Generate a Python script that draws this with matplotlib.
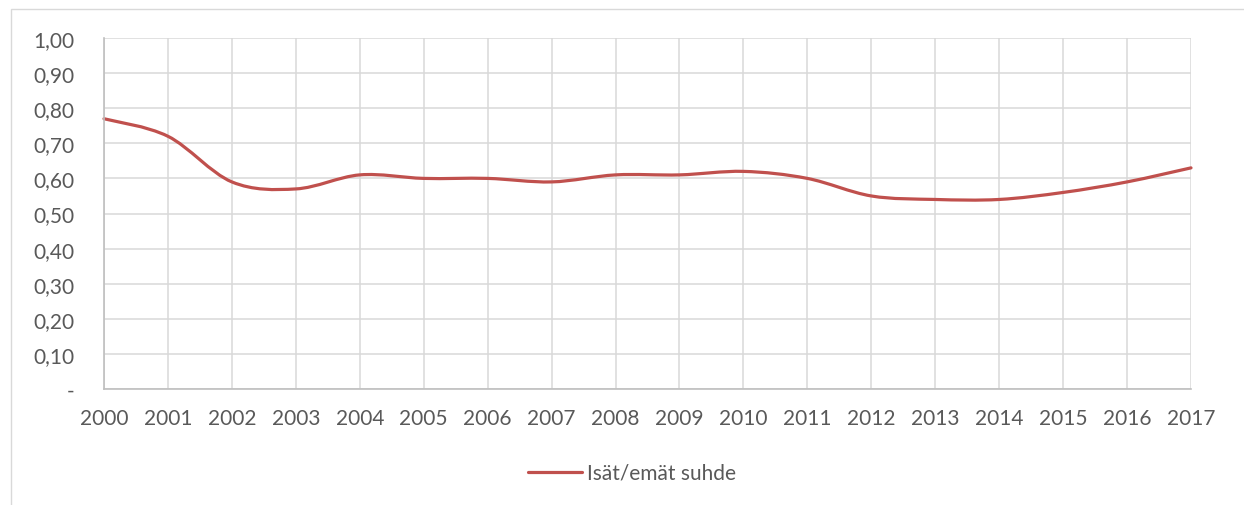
import numpy as np
import matplotlib
matplotlib.use('Agg')
import matplotlib.pyplot as plt
from matplotlib.path import Path
from matplotlib.patches import PathPatch, Rectangle
from matplotlib.lines import Line2D
from matplotlib.ticker import FuncFormatter

plt.rcParams['font.family'] = ['Lato', 'DejaVu Sans']

# data
years = [2000, 2001, 2002, 2003, 2004, 2005, 2006, 2007, 2008,
         2009, 2010, 2011, 2012, 2013, 2014, 2015, 2016, 2017]
ratio = [0.77, 0.72, 0.59, 0.57, 0.61, 0.60, 0.60, 0.59, 0.61,
         0.61, 0.62, 0.60, 0.55, 0.54, 0.54, 0.56, 0.59, 0.63]
series_label = 'Isät/emät suhde'

LINE_COLOR = '#c0504d'
GRID_COLOR = '#d9d9d9'
TEXT_COLOR = '#595959'
FS = 15


def smooth_path(xs, ys):
    # excel-tyylinen pehmennys: bezier-käyrät pisteiden läpi
    pts = np.column_stack([xs, ys]).astype(float)
    n = len(pts)
    verts = [pts[0]]
    codes = [Path.MOVETO]
    for i in range(n - 1):
        p0 = pts[i - 1] if i > 0 else pts[i]
        p1 = pts[i]
        p2 = pts[i + 1]
        p3 = pts[i + 2] if i + 2 < n else pts[i + 1]
        c1 = p1 + (p2 - p0) / 6.0
        c2 = p2 - (p3 - p1) / 6.0
        verts += [c1, c2, p2]
        codes += [Path.CURVE4] * 3
    return Path(verts, codes)


W, H = 1244, 506
fig = plt.figure(figsize=(W / 100, H / 100), dpi=100)

# chart border (only top/left visible in the original)
fig.patches.append(Rectangle((11 / W, -0.1), 1.2, 1 - 10 / H + 0.1,
                             transform=fig.transFigure, fill=False,
                             edgecolor=GRID_COLOR, linewidth=1.0))

left, right, top, bottom = 104, 1191, 39, 390
ax = fig.add_axes([left / W, 1 - bottom / H, (right - left) / W, (bottom - top) / H])

ax.set_xlim(years[0], years[-1])
ax.set_ylim(0, 1.0)
ax.set_xticks(years)
ax.set_yticks(np.arange(0, 1.01, 0.1))
ax.yaxis.set_major_formatter(FuncFormatter(
    lambda v, _: '-' if abs(v) < 1e-9 else f'{v:.2f}'.replace('.', ',')))

ax.grid(True, color=GRID_COLOR, linewidth=1.1)
ax.set_axisbelow(True)
for side in ['top', 'right']:
    ax.spines[side].set_visible(False)
for side in ['left', 'bottom']:
    ax.spines[side].set_color('#bfbfbf')
    ax.spines[side].set_linewidth(1.2)

ax.tick_params(axis='both', length=0, labelsize=FS, labelcolor=TEXT_COLOR)
ax.tick_params(axis='y', pad=21)
ax.tick_params(axis='x', pad=14)

patch = PathPatch(smooth_path(years, ratio), facecolor='none',
                  edgecolor=LINE_COLOR, linewidth=2.3, capstyle='round',
                  transform=ax.transData, clip_on=False)
ax.add_patch(patch)

handle = Line2D([], [], color=LINE_COLOR, linewidth=2.3, solid_capstyle='round')
fig.legend([handle], [series_label], loc='center',
           bbox_to_anchor=(632 / W, 1 - 474 / H), frameon=False,
           fontsize=FS, labelcolor=TEXT_COLOR, handlelength=2.6,
           handletextpad=0.25)

fig.savefig('out.png', dpi=100)
